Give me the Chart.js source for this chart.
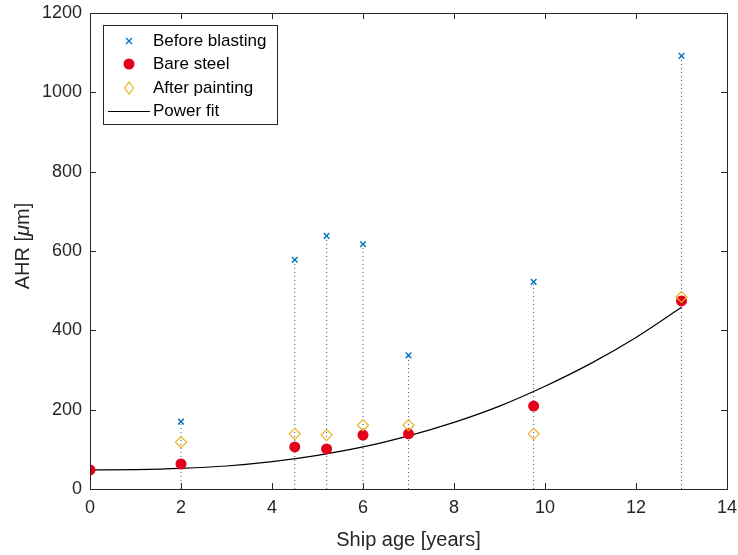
<!DOCTYPE html>
<html>
<head>
<meta charset="utf-8">
<script src="https://cdn.jsdelivr.net/npm/chart.js@4.4.1/dist/chart.umd.min.js"></script>
<style>
  html, body { margin: 0; padding: 0; background: #fff; }
  #wrap { width: 738px; height: 555px; }
</style>
</head>
<body>
<div id="wrap"><canvas id="chart" width="738" height="555"></canvas></div>
<script>
// Данные
const shipAge = [2, 4.5, 5.2, 6, 7, 9.75, 13];
const beforeBlasting = [170, 578, 638, 617, 337, 522, 1092];
const bareAge = [0, 2, 4.5, 5.2, 6, 7, 9.75, 13];
const bareSteel = [48, 63, 106, 101, 136, 139, 209, 474];
const afterPainting = [118, 139, 136, 161, 161, 139, 484];
// Кривая степенной аппроксимации
const fitAge = [0, 1, 2, 3, 4, 5, 6, 7, 8, 9, 10, 11, 12, 13];
const fitValues = [48, 49, 52, 58, 69, 85, 106, 134, 168, 209, 259, 316, 382, 458];
const seriesNames = ['Before blasting', 'Bare steel', 'After painting', 'Power fit'];

const BLUE = '#0072BD';
const RED = '#E2001A';
const ORANGE = '#EDB120';
const AXIS = '#262626';
const FONT = "'Liberation Sans', Arial, sans-serif";

const pts = (xs, ys) => xs.map((x, i) => ({ x: x, y: ys[i] }));

// Пунктирные вертикальные линии
const stems = shipAge.map((x, i) => ({
    data: [{ x: x, y: 0 }, { x: x, y: beforeBlasting[i] }],
    borderColor: BLUE,
    borderWidth: 1,
    borderDash: [1, 3],
    pointRadius: 0,
    showLine: true,
    order: 3
}));

// Рамка, внутренние риски, подпись оси Y и легенда
const boxPlugin = {
    id: 'box',
    beforeDatasetsDraw(chart) {
        const { ctx, chartArea: a, scales } = chart;
        ctx.save();
        ctx.strokeStyle = AXIS;
        ctx.lineWidth = 1;
        ctx.beginPath();
        scales.x.ticks.forEach(t => {
            const px = Math.round(scales.x.getPixelForValue(t.value)) + 0.5;
            ctx.moveTo(px, a.bottom); ctx.lineTo(px, a.bottom - 6);
            ctx.moveTo(px, a.top); ctx.lineTo(px, a.top + 6);
        });
        scales.y.ticks.forEach(t => {
            const py = Math.round(scales.y.getPixelForValue(t.value)) + 0.5;
            ctx.moveTo(a.left, py); ctx.lineTo(a.left + 6, py);
            ctx.moveTo(a.right, py); ctx.lineTo(a.right - 6, py);
        });
        ctx.stroke();

        // подпись оси Y с курсивной μ
        const parts = [['AHR [', ''], ['μ', 'italic '], ['m]', '']];
        let total = 0;
        parts.forEach(p => { ctx.font = p[1] + '20px ' + FONT; total += ctx.measureText(p[0]).width; });
        ctx.translate(23, 246);
        ctx.rotate(-Math.PI / 2);
        ctx.fillStyle = AXIS;
        ctx.textBaseline = 'middle';
        let cx = -total / 2;
        parts.forEach(p => {
            ctx.font = p[1] + '20px ' + FONT;
            ctx.fillText(p[0], cx, 0);
            cx += ctx.measureText(p[0]).width;
        });
        ctx.restore();
    },
    afterDatasetsDraw(chart) {
        const { ctx, chartArea: a } = chart;
        ctx.save();
        ctx.strokeStyle = AXIS;
        ctx.lineWidth = 1;
        ctx.strokeRect(Math.round(a.left) + 0.5, Math.round(a.top) + 0.5,
            Math.round(a.right - a.left), Math.round(a.bottom - a.top));

        // легенда
        const lx = 103, ly = 25, lw = 174, lh = 99;
        ctx.fillStyle = '#fff';
        ctx.fillRect(lx, ly, lw, lh);
        ctx.strokeRect(lx + 0.5, ly + 0.5, lw, lh);
        const rows = [41, 64, 88, 111];
        const mx = 129, tx = 153;
        // x
        ctx.strokeStyle = BLUE;
        ctx.lineWidth = 1.3;
        ctx.beginPath();
        ctx.moveTo(mx - 3, rows[0] - 3); ctx.lineTo(mx + 3, rows[0] + 3);
        ctx.moveTo(mx - 3, rows[0] + 3); ctx.lineTo(mx + 3, rows[0] - 3);
        ctx.stroke();
        // круг
        ctx.fillStyle = RED;
        ctx.beginPath();
        ctx.arc(mx, rows[1], 5.5, 0, Math.PI * 2);
        ctx.fill();
        // ромб
        ctx.strokeStyle = ORANGE;
        ctx.lineWidth = 1.2;
        ctx.beginPath();
        ctx.moveTo(mx, rows[2] - 6); ctx.lineTo(mx + 4.5, rows[2]);
        ctx.lineTo(mx, rows[2] + 6); ctx.lineTo(mx - 4.5, rows[2]);
        ctx.closePath();
        ctx.stroke();
        // линия
        ctx.strokeStyle = '#000';
        ctx.lineWidth = 1;
        ctx.beginPath();
        ctx.moveTo(108, rows[3] + 0.5); ctx.lineTo(150, rows[3] + 0.5);
        ctx.stroke();

        ctx.fillStyle = '#000';
        ctx.font = '17px ' + FONT;
        ctx.textBaseline = 'middle';
        seriesNames.forEach((n, i) => ctx.fillText(n, tx, rows[i]));
        ctx.restore();
    }
};

const ctx = document.getElementById('chart').getContext('2d');
new Chart(ctx, {
    type: 'scatter',
    data: {
        datasets: [
            {
                label: seriesNames[0],
                data: pts(shipAge, beforeBlasting),
                pointStyle: 'crossRot',
                pointRadius: 4,
                borderColor: BLUE,
                borderWidth: 1.4,
                order: 0
            },
            {
                label: seriesNames[2],
                data: pts(shipAge, afterPainting),
                pointStyle: 'rectRot',
                pointRadius: 5.5,
                borderColor: ORANGE,
                backgroundColor: 'rgba(0,0,0,0)',
                borderWidth: 1.2,
                order: 1
            },
            {
                label: seriesNames[1],
                data: pts(bareAge, bareSteel),
                pointStyle: 'circle',
                pointRadius: 5.5,
                backgroundColor: RED,
                borderColor: RED,
                borderWidth: 0,
                order: 1.5
            },
            {
                label: seriesNames[3],
                data: pts(fitAge, fitValues),
                showLine: true,
                borderColor: '#000',
                borderWidth: 1.2,
                pointRadius: 0,
                cubicInterpolationMode: 'monotone',
                order: 2
            },
            ...stems
        ]
    },
    options: {
        responsive: false,
        animation: false,
        events: [],
        layout: { padding: { top: 13, right: 11, left: 0, bottom: 0 } },
        plugins: { legend: { display: false }, tooltip: { enabled: false } },
        scales: {
            x: {
                type: 'linear',
                min: 0, max: 14,
                grid: { display: false, drawTicks: false },
                border: { display: true, color: AXIS },
                ticks: { stepSize: 2, color: AXIS, padding: 8, font: { family: FONT, size: 18 }, callback: v => String(v) },
                title: { display: true, text: 'Ship age [years]', color: AXIS, font: { family: FONT, size: 20 }, padding: { top: 4, bottom: 3 } },
                afterFit: s => { s.height = 66; s.paddingLeft = 0; s.paddingRight = 0; }
            },
            y: {
                min: 0, max: 1200,
                grid: { display: false, drawTicks: false },
                border: { display: true, color: AXIS },
                ticks: { stepSize: 200, color: AXIS, padding: 8, font: { family: FONT, size: 18 }, callback: v => String(v) },
                title: { display: false },
                afterFit: s => { s.width = 90; s.paddingTop = 0; s.paddingBottom = 0; }
            }
        }
    },
    plugins: [boxPlugin]
});
</script>
</body>
</html>
